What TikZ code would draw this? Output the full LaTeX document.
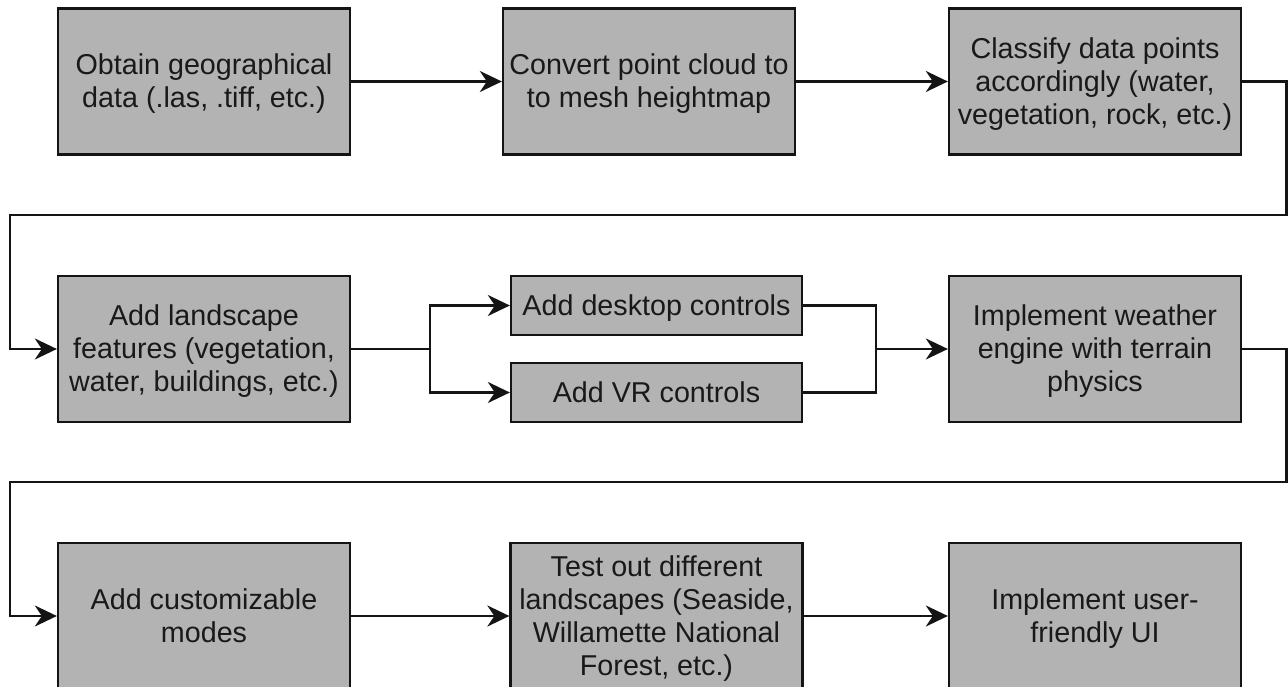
\documentclass[tikz,border=0pt]{standalone}
\usepackage{fontspec}
\setmainfont{Liberation Sans}
\usetikzlibrary{arrows.meta}
\definecolor{boxfill}{HTML}{B3B3B3}
\definecolor{edge}{HTML}{141414}
\newcommand\ls{\rule[-6.2pt]{0pt}{32.2pt}}
\begin{document}
\begin{tikzpicture}[x=1pt,y=-1pt,
  box/.style={draw=edge,fill=boxfill,line width=2.3pt,inner sep=0pt,
    minimum width=292pt,minimum height=146pt,align=center,text=black!90,
    font=\fontsize{28.7}{33}\selectfont},
  smallbox/.style={box,minimum width=291pt,minimum height=59pt},
  conn/.style={draw=edge,line width=2.3pt},
  arr/.style={conn,-{Stealth[length=22pt,width=21pt,inset=7pt]}}]
\useasboundingbox (0,0) rectangle (1288,687);
\fill[white] (0,0) rectangle (1288,687);
% row 1
\node[box] (b1) at (204,81.5) {\ls Obtain geographical\\\ls data (.las, .tiff, etc.)};
\node[box] (b2) at (649,81.5) {\ls Convert point cloud to\\\ls to mesh heightmap};
\node[box] (b3) at (1095,81.5) {\ls Classify data points\\\ls accordingly (water,\\\ls vegetation, rock, etc.)};
% row 2
\node[box] (b4) at (204,349) {\ls Add landscape\\\ls features (vegetation,\\\ls water, buildings, etc.)};
\node[smallbox] (dc) at (656.5,305.5) {\ls Add desktop controls};
\node[smallbox] (vr) at (656.5,392.5) {\ls Add VR controls};
\node[box] (b6) at (1095,349) {\ls Implement weather\\\ls engine with terrain\\\ls physics};
% row 3
\node[box] (b7) at (204,616) {\ls Add customizable\\\ls modes};
\node[box] (b8) at (656.5,616) {\ls Test out different\\\ls landscapes (Seaside,\\\ls Willamette National\\\ls Forest, etc.)};
\node[box] (b9) at (1095,616) {\ls Implement user-\\\ls friendly UI};
% connectors
\coordinate (r1) at (1286.5,215);
\coordinate (l1) at (10,215);
\coordinate (r2) at (1286.5,482);
\coordinate (l2) at (10,482);
\coordinate (sp) at (430,349);
\coordinate (mg) at (876,349);
\draw[arr] (b1) -- (b2);
\draw[arr] (b2) -- (b3);
\draw[arr] (b3.east) -| (r1) -- (l1) |- (b4.west);
\draw[conn] (b4.east) -- (sp);
\draw[arr] (sp) |- (dc.west);
\draw[arr] (sp) |- (vr.west);
\draw[conn] (dc.east) -| (mg);
\draw[conn] (vr.east) -| (mg);
\draw[arr] (mg) -- (b6.west);
\draw[arr] (b6.east) -| (r2) -- (l2) |- (b7.west);
\draw[arr] (b7) -- (b8);
\draw[arr] (b8) -- (b9);
\end{tikzpicture}
\end{document}
